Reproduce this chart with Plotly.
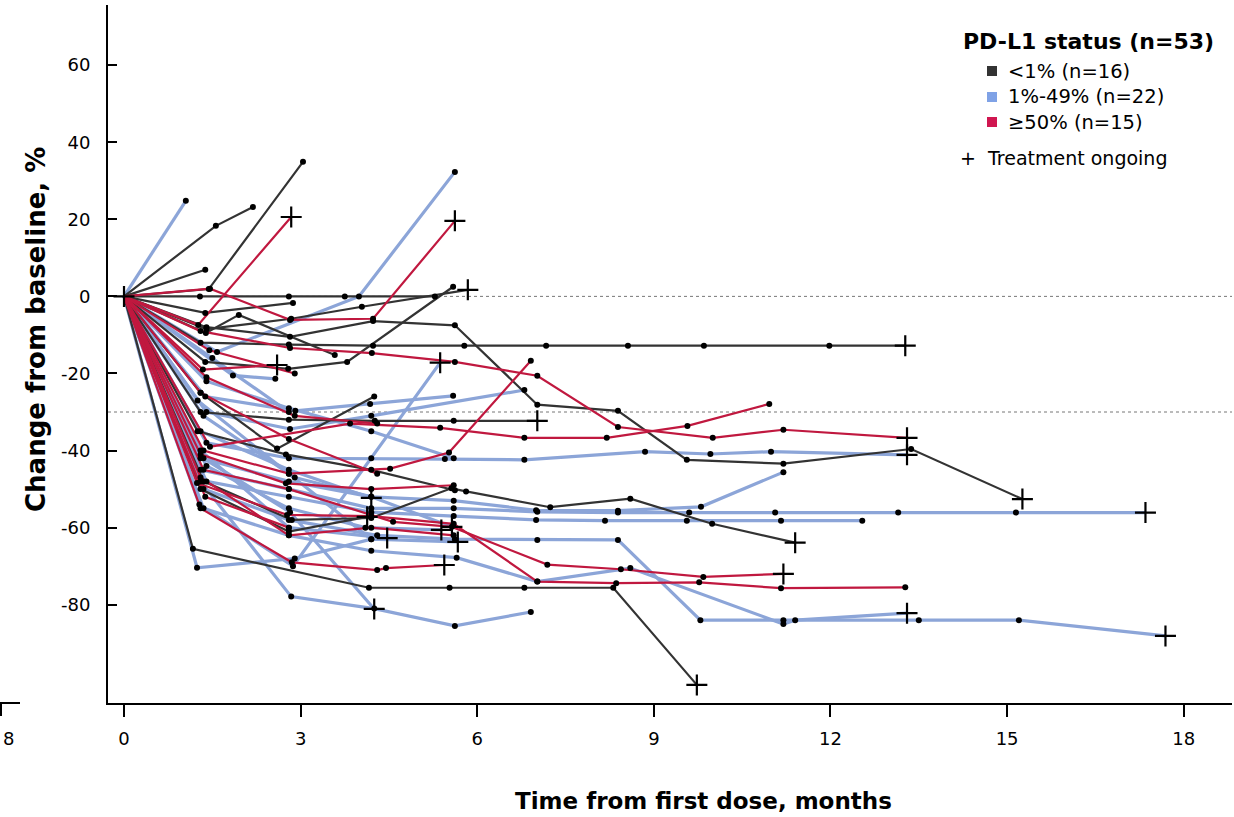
import plotly.graph_objects as go

# ---------------- data ----------------
# PD-L1 <1% (black)
neg_times = [
    [0, 1.56, 2.19],
    [0, 1.38],
    [0, 1.44, 3.04],
    [0, 1.38, 2.87],
    [0, 1.4, 2.84, 4.04, 5.84],
    [0, 1.29, 2.8, 3.75, 5.28],
    [0, 1.38, 2.79, 3.79, 5.59],
    [0, 1.3, 2.8, 4.23, 5.78, 7.17, 8.56, 9.85, 11.98, 13.27],
    [0, 1.4, 2.82, 4.23, 5.62, 7.02, 8.39, 9.56, 11.2, 13.37, 15.26],
    [0, 1.3, 2.6, 4.25],
    [0, 1.3, 2.8, 4.26, 5.6, 7.02],
    [0, 1.35, 2.85, 4.2, 5.56, 5.81, 7.24, 8.6, 9.99, 11.4],
    [0, 1.17, 4.16, 5.53, 6.8, 8.31, 9.73],
    [0, 1.39, 1.95, 3.58],
    [0, 1.25, 2.75, 4.2, 5.62],
    [0, 1.3, 2.8, 4.13],
]
neg_values = [
    [0, 18.3, 23.2],
    [0, 6.9],
    [0, 1.9, 34.9],
    [0, -4.3, -1.7],
    [0, -8.5, -5.8, -2.7, 1.7],
    [0, 0, 0, 0, 0],
    [0, -17, -18.8, -17, 2.5],
    [0, -12, -12.5, -12.8, -12.8, -12.8, -12.8, -12.8, -12.8, -12.8],
    [0, -8, -10.5, -6.4, -7.5, -28.1, -29.7, -42.4, -43.4, -39.6, -52.6],
    [0, -25, -39.5, -26],
    [0, -30, -32, -32.3, -32.3, -32.3],
    [0, -48, -58, -57.5, -49.8, -50.6, -54.7, -52.5, -59, -63.9],
    [0, -65.5, -75.6, -75.6, -75.6, -75.6, -100.8],
    [0, -9.5, -4.8, -15.2],
    [0, -35, -41, -45, -50.3],
    [0, -50, -61, -57.2],
]
neg_ongoing = [False, False, False, False, True, False, False, True, True, False,
               True, True, True, False, False, True]

# PD-L1 1%-49% (blue)
low_times = [
    [0, 1.05],
    [0, 1.58, 3.99, 5.62],
    [0, 1.4, 2.8, 4.2, 5.45, 6.8, 8.85, 9.96, 10.99, 13.3],
    [0, 1.3, 2.8, 4.2, 5.6, 7.02, 8.39, 9.6, 11.06, 13.15, 15.15, 17.35],
    [0, 1.4, 2.8, 4.2, 5.6, 7.0, 8.17, 9.56, 11.16, 12.54],
    [0, 1.3, 2.8, 4.2, 5.6, 7.0, 8.39, 9.8, 11.2],
    [0, 1.35, 2.8, 4.3, 5.62, 7.02, 8.39, 9.79, 11.2, 13.5, 15.2, 17.69],
    [0, 1.35, 2.8, 4.2, 5.65, 7.02, 8.6, 11.2, 11.4, 13.3],
    [0, 1.4, 2.82, 4.2, 6.8],
    [0, 1.38, 2.91, 4.18, 5.59],
    [0, 1.3, 2.84, 4.25, 5.62, 6.91],
    [0, 1.35, 2.82, 4.25],
    [0, 1.28, 2.87, 5.37],
    [0, 1.24, 2.9, 4.2, 5.67],
    [0, 1.3, 2.8, 4.2],
    [0, 1.4, 2.8, 4.1, 5.39],
    [0, 1.3, 2.8, 4.47],
    [0, 1.4, 2.8, 4.2, 5.6],
    [0, 1.85, 2.57],
    [0, 1.35, 2.9, 4.2, 5.57],
    [0, 1.25, 2.8, 4.2],
    [0, 1.5, 2.8],
]
low_values = [
    [0, 24.8],
    [0, -14.4, 0, 32.3],
    [0, -38, -42, -42, -42.2, -42.4, -40.3, -40.9, -40.3, -41.1],
    [0, -45, -50, -55, -55, -55.9, -56.1, -56.1, -56.1, -56.1, -56.1, -56.1],
    [0, -48, -52, -56, -57, -58, -58.2, -58.2, -58.2, -58.2],
    [0, -42, -48, -52, -53, -55.5, -55.6, -54.6, -45.6],
    [0, -50, -58, -62, -63, -63.2, -63.2, -84, -84, -84, -84, -88.1],
    [0, -55, -62, -66, -67.8, -74, -70.5, -85, -84, -82.2],
    [0, -30, -34.4, -31, -24.3],
    [0, -26, -29.7, -27.9, -25.8],
    [0, -48, -77.9, -81, -85.5, -81.9],
    [0, -42, -56, -81.1],
    [0, -54, -70, -17.2],
    [0, -70.4, -68, -63, -63.7],
    [0, -35, -45, -52.3],
    [0, -44, -55, -60, -60.6],
    [0, -40, -60, -62.7],
    [0, -22, -29, -35, -42],
    [0, -20.5, -21.4],
    [0, -31, -47, -52, -59.8],
    [0, -27, -46, -63],
    [0, -16, -30],
]
low_ongoing = [False, False, True, True, False, False, True, True, False, False,
               False, True, True, True, True, True, True, False, False, True,
               False, False]

# PD-L1 >=50% (red)
high_times = [
    [0, 1.26, 2.84],
    [0, 1.46, 2.82, 4.23, 5.62],
    [0, 1.3, 2.82, 4.21, 5.62, 7.02, 8.39, 10.0, 11.2, 13.3],
    [0, 1.46, 3.84, 5.37, 6.8, 8.2, 9.57, 10.96],
    [0, 1.35, 2.8, 4.52, 5.52, 6.91],
    [0, 1.35, 2.8, 4.57, 5.57, 7.19, 8.44, 9.84, 11.2],
    [0, 1.24, 2.77, 4.2, 5.6, 7.02, 8.36, 9.77, 11.16, 13.27],
    [0, 1.3, 2.85, 4.3, 4.45, 5.44],
    [0, 1.34, 2.6],
    [0, 1.4, 2.9, 4.3],
    [0, 1.3, 2.75, 4.2, 5.6],
    [0, 1.38, 2.8],
    [0, 1.3, 2.8, 4.3],
    [0, 1.45, 2.9],
    [0, 1.3, 2.8, 4.2, 5.6],
]
high_values = [
    [0, -7.4, 20.6],
    [0, 2, -6.1, -5.8, 19.6],
    [0, -9, -13.4, -14.7, -17, -20.6, -33.9, -36.7, -34.6, -36.7],
    [0, -39, -33, -34.1, -36.7, -36.7, -33.6, -27.9],
    [0, -40, -46, -44.7, -40.5, -16.7],
    [0, -45, -50, -58.5, -59.8, -69.6, -70.8, -72.8, -72],
    [0, -48.4, -56.7, -57, -59, -74, -74.4, -74.2, -75.7, -75.5],
    [0, -55, -69, -71, -70.5, -69.7],
    [0, -19, -17.8],
    [0, -21, -31, -33],
    [0, -41, -48.5, -50, -49],
    [0, -52, -60],
    [0, -25, -37, -46],
    [0, -14, -20],
    [0, -47, -62, -60, -62],
]
high_ongoing = [True, True, True, False, False, True, False, True, True, False,
                False, False, False, False, False]

x_ticks = [0, 3, 6, 9, 12, 15, 18]
y_ticks = [60, 40, 20, 0, -20, -40, -60, -80]
ref_levels = [0, -30]

legend_title = "PD-L1 status (n=53)"
legend_labels = ["<1% (n=16)", "1%-49% (n=22)", "≥50% (n=15)"]
legend_colors = ["#333333", "#7FA2E6", "#D01650"]
ongoing_label = "+  Treatment ongoing"

# ---------------- figure ----------------
FONT = "DejaVu Sans"
fig = go.Figure()

groups = [
    (low_times, low_values, low_ongoing, "#8CA5D8", 3.2),
    (neg_times, neg_values, neg_ongoing, "#333333", 2.2),
    (high_times, high_values, high_ongoing, "#C0183F", 2.2),
]

dot_x, dot_y, cross_x, cross_y = [], [], [], []
for ts, vs, ons, col, w in groups:
    for t, v, on in zip(ts, vs, ons):
        fig.add_trace(go.Scatter(x=t, y=v, mode="lines",
                                 line=dict(color=col, width=w),
                                 hoverinfo="skip", showlegend=False))
        last = len(t) - 1
        for i in range(1, len(t)):
            if i == last and on:
                cross_x.append(t[i]); cross_y.append(v[i])
            else:
                dot_x.append(t[i]); dot_y.append(v[i])

cross_x.append(0); cross_y.append(0)

fig.add_trace(go.Scatter(x=dot_x, y=dot_y, mode="markers",
                         marker=dict(symbol="circle", size=6, color="black"),
                         hoverinfo="skip", showlegend=False))
fig.add_trace(go.Scatter(x=cross_x, y=cross_y, mode="markers",
                         marker=dict(symbol="cross-thin", size=15,
                                     line=dict(width=2.2, color="black")),
                         hoverinfo="skip", showlegend=False))

for lv in ref_levels:
    fig.add_shape(type="line", xref="paper", x0=0, x1=1, yref="y", y0=lv, y1=lv,
                  line=dict(color="#777777", width=1, dash="dot"), layer="below")

# plot area: x 108..1232 px, y 5..703 px
PW, PH = 1124.0, 698.0
def px(xp):
    return (xp - 108) / PW
def py(yp):
    return (703 - yp) / PH

# left stray axis fragment
fig.add_shape(type="line", xref="paper", yref="paper", x0=px(0), x1=px(20), y0=0, y1=0,
              line=dict(color="black", width=2))
fig.add_shape(type="line", xref="paper", yref="paper", x0=px(1), x1=px(1), y0=0, y1=py(716),
              line=dict(color="black", width=2))
fig.add_annotation(xref="paper", yref="paper", x=px(8), y=py(738), text="8",
                   showarrow=False, font=dict(family=FONT, size=18, color="black"),
                   xanchor="center", yanchor="middle")

# legend
fig.add_annotation(xref="paper", yref="paper", x=px(1088), y=py(41), text="<b>%s</b>" % legend_title,
                   showarrow=False, font=dict(family=FONT, size=22, color="black"),
                   xanchor="center", yanchor="middle")
for i, (lab, col) in enumerate(zip(legend_labels, legend_colors)):
    yc = [71, 97, 122][i]
    fig.add_shape(type="rect", xref="paper", yref="paper",
                  x0=px(987), x1=px(997), y0=py(yc + 5), y1=py(yc - 5),
                  fillcolor=col, line=dict(width=0))
    fig.add_annotation(xref="paper", yref="paper", x=px(1006), y=py(yc), text=lab,
                       showarrow=False, font=dict(family=FONT, size=19.5, color="black"),
                       xanchor="left", yanchor="middle")
fig.add_annotation(xref="paper", yref="paper", x=px(958), y=py(158), text=ongoing_label,
                   showarrow=False, font=dict(family=FONT, size=19, color="black"),
                   xanchor="left", yanchor="middle")

# axis titles
fig.add_annotation(xref="paper", yref="paper", x=px(703), y=py(801),
                   text="<b>Time from first dose, months</b>", showarrow=False,
                   font=dict(family=FONT, size=23, color="black"),
                   xanchor="center", yanchor="middle")
fig.add_annotation(xref="paper", yref="paper", x=px(36), y=py(330),
                   text="<b>Change from baseline, %</b>", showarrow=False, textangle=-90,
                   font=dict(family=FONT, size=26, color="black"),
                   xanchor="center", yanchor="middle")

fig.update_layout(
    width=1234, height=817,
    margin=dict(l=108, r=2, t=5, b=114),
    paper_bgcolor="white", plot_bgcolor="white",
    font=dict(family=FONT, size=18, color="black"),
    showlegend=False,
)
fig.update_xaxes(range=[-0.272, 18.82], tickvals=x_ticks, ticktext=[str(v) for v in x_ticks],
                 showgrid=False, zeroline=False, showline=True, linecolor="black", linewidth=2,
                 ticks="outside", ticklen=12, tickwidth=2, tickcolor="black",
                 tickfont=dict(family=FONT, size=18), ticklabelstandoff=6)
fig.update_yaxes(range=[-105.5, 75.6], tickvals=y_ticks, ticktext=[str(v) for v in y_ticks],
                 showgrid=False, zeroline=False, showline=True, linecolor="black", linewidth=2,
                 ticks="inside", ticklen=9, tickwidth=2, tickcolor="black",
                 tickfont=dict(family=FONT, size=18), ticklabelstandoff=12)

fig.write_html("out.html")
